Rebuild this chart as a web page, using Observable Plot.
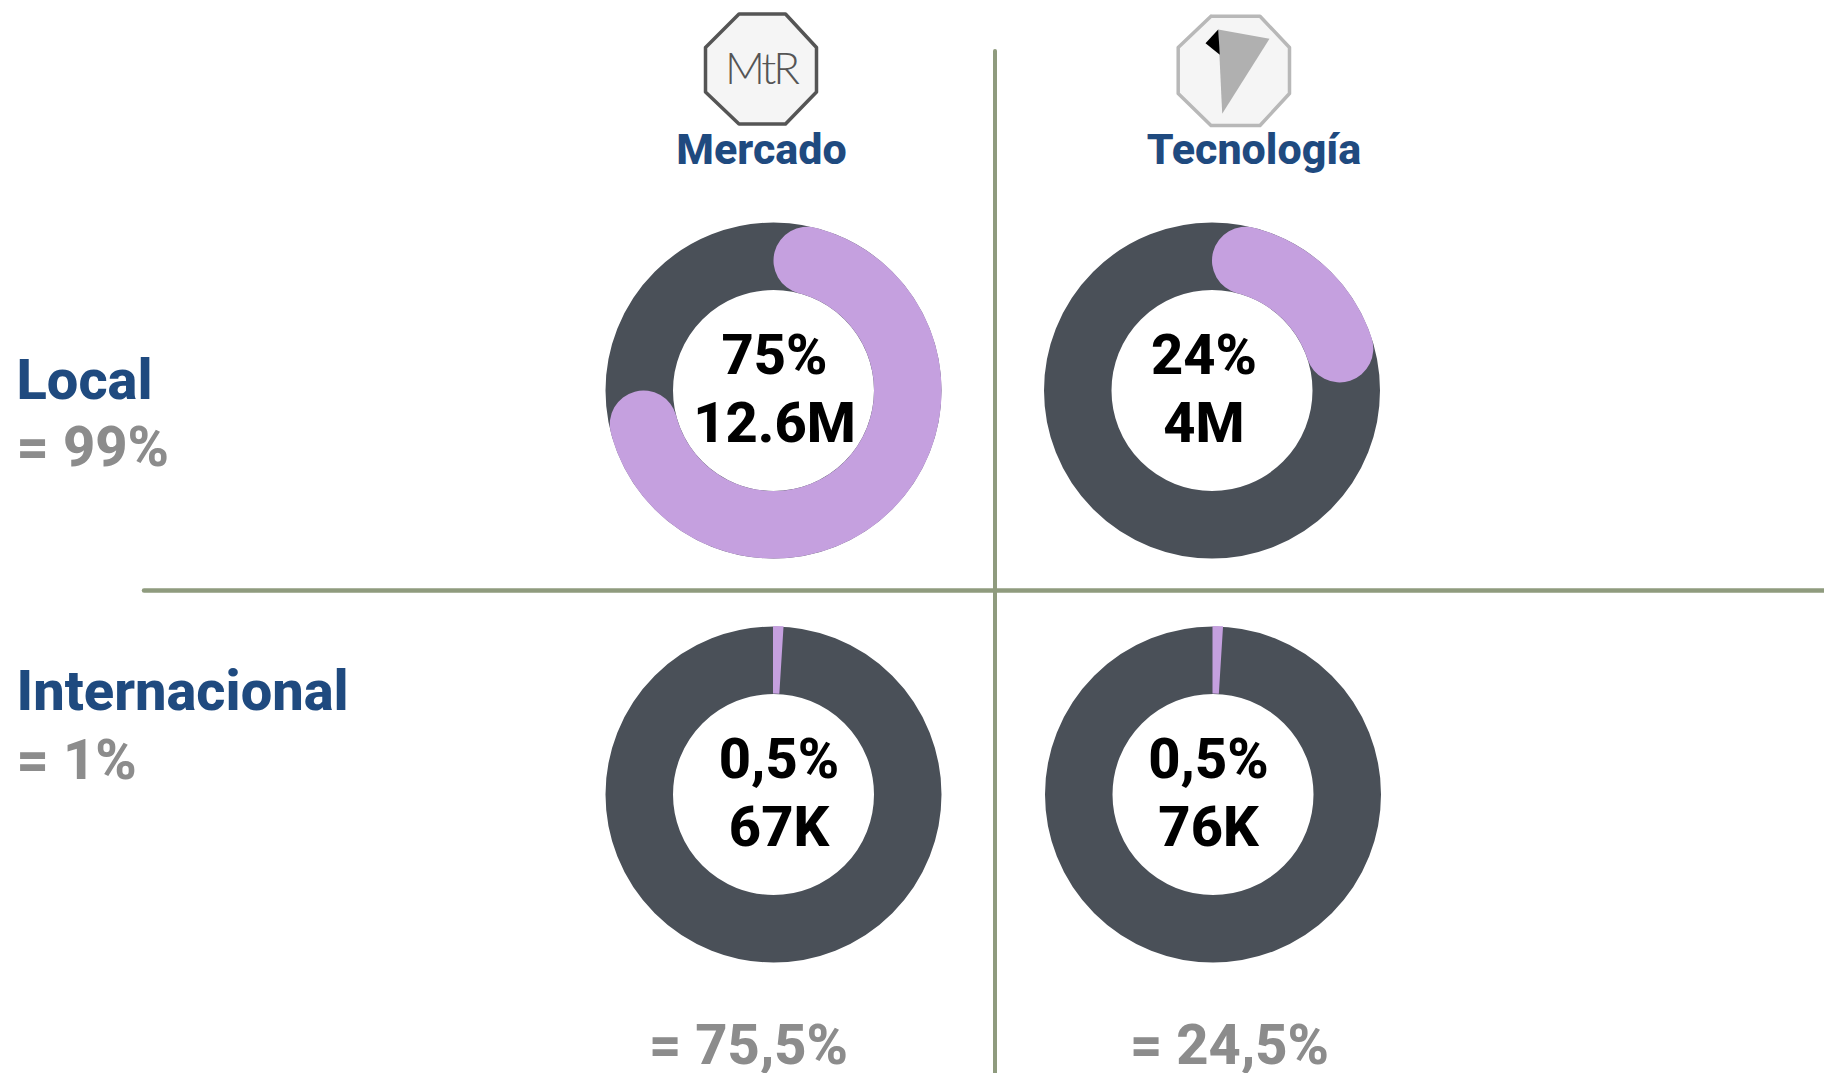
<!DOCTYPE html>
<html lang="es">
<head>
<meta charset="utf-8">
<script src="https://cdn.jsdelivr.net/npm/d3@7"></script>
<script src="https://cdn.jsdelivr.net/npm/@observablehq/plot@0.6"></script>
<style>
html,body{margin:0;padding:0;background:#fff;overflow:hidden}
svg{display:block}
</style>
</head>
<body>
<div id="chart"></div>
<script>
// --- values
const sectors = ["Mercado", "Tecnología"];
const regions = ["Local", "Internacional"];
const sectorTotals = ["= 75,5%", "= 24,5%"];
const regionTotals = ["= 99%", "= 1%"];
const donutSector = ["Mercado", "Tecnología", "Mercado", "Tecnología"];
const donutRegion = ["Local", "Local", "Internacional", "Internacional"];
const drawnShare = [75, 24, 1, 1];
const percentLabels = ["75%", "24%", "0,5%", "0,5%"];
const amountLabels = ["12.6M", "4M", "67K", "76K"];

// --- layout
const W = 1824, H = 1073;
const centreX = [773, 1211.5, 773, 1212.5];
const centreY = [390, 390, 794, 794];
const labelX = [774, 1203.5, 778.5, 1208];
const rOuter = 168, rInner = 100.5, rMid = (rOuter + rInner) / 2, band = rOuter - rInner;
const capDeg = Math.asin((band / 2) / rMid) * 180 / Math.PI;

const C = {dark: "#4a5058", purple: "#c5a0df", rule: "#8f9b7e", blue: "#1f4a7f", gray: "#8c8c8c"};
const font = "Roboto";

const donuts = donutSector.map((s, i) => ({
  sector: s, region: donutRegion[i], cx: centreX[i], cy: centreY[i],
  share: drawnShare[i], pct: percentLabels[i], amt: amountLabels[i], lx: labelX[i]
}));
const polar = (d, deg, r) => {
  const a = deg * Math.PI / 180;
  return [d.cx + r * Math.sin(a), d.cy - r * Math.cos(a)];
};
const arcPts = [], wedgePts = [];
donuts.forEach((d, k) => {
  const end = d.share * 3.6;
  if (end > 2 * capDeg) {
    for (const deg of d3.range(capDeg, end - capDeg, 1).concat(end - capDeg)) {
      const [x, y] = polar(d, deg, rMid);
      arcPts.push({k, x, y});
    }
  } else {
    for (const deg of [0, end]) {
      const [x1, y1] = polar(d, deg, rInner), [x2, y2] = polar(d, deg, rOuter);
      wedgePts.push({k, x1, y1, x2, y2});
    }
  }
});

// --- icons (decorative)
const octagonA = [[738.5,13.5],[785,13.5],[816,47],[816,91.5],[785,123.5],[738.5,123.5],[705,91.5],[705,47],[738.5,13.5]];
const octagonB = [[1210.5,15.7],[1259.5,15.7],[1289,47],[1289,93],[1259.5,125],[1210.5,125],[1177.7,93],[1177.7,47],[1210.5,15.7]];
const kiteGray = [[1217.7,29],[1269,38.3],[1221.7,113.3]];
const kiteBlack = [[1217.7,29],[1205,42.7],[1219.3,54.3]];

const txt = (data, o) => Plot.text(data, {fontFamily: font, fontWeight: 800, fontSize: 56, lineAnchor: "bottom", ...o});

const chart = Plot.plot({
  width: W, height: H, margin: 0,
  style: {background: "#fff"},
  x: {domain: [0, W], range: [0, W], axis: null},
  y: {domain: [0, H], range: [0, H], axis: null},
  marks: [
    Plot.ruleX([994.5], {y1: 51, y2: H, stroke: C.rule, strokeWidth: 4, strokeLinecap: "round"}),
    Plot.ruleY([590], {x1: 144, x2: W, stroke: C.rule, strokeWidth: 4.5, strokeLinecap: "round"}),

    Plot.dot(donuts, {x: "cx", y: "cy", r: rMid, fill: "none", stroke: C.dark, strokeWidth: band}),
    Plot.line(arcPts, {x: "x", y: "y", z: "k", stroke: C.purple, strokeWidth: band, strokeLinecap: "round", curve: "linear"}),
    Plot.area(wedgePts, {x1: "x1", y1: "y1", x2: "x2", y2: "y2", z: "k", fill: C.purple}),

    txt(donuts, {x: "lx", y: d => d.cy - 17, text: "pct", fill: "#000"}),
    txt(donuts, {x: "lx", y: d => d.cy + 51.5, text: "amt", fill: "#000"}),

    txt(regions, {x: 16, y: d => ({Local: 398, Internacional: 709})[d], text: d => d, fill: C.blue, textAnchor: "start"}),
    txt(regionTotals, {x: 16, y: (d, i) => [465.5, 778][i], text: d => d, fill: C.gray, textAnchor: "start"}),
    txt(sectors, {x: [761, 1253.5], y: 163, text: d => d, fill: C.blue, fontSize: 43}),
    txt(sectorTotals, {x: [748, 1229], y: 1063, text: d => d, fill: C.gray}),

    Plot.line(octagonA, {stroke: "#555", fill: "#f5f5f5", strokeWidth: 3.5}),
    Plot.line(octagonB, {stroke: "#b8b8b8", fill: "#f5f5f5", strokeWidth: 3.5}),
    Plot.line(kiteGray, {fill: "#b0b0b0", stroke: "none"}),
    Plot.line(kiteBlack, {fill: "#000", stroke: "none"}),
    Plot.text(["MtR"], {x: 760.5, y: 83, text: d => d, fontFamily: "Lato", fontWeight: 300, fontSize: 44, letterSpacing: "-3px", fill: "#555", lineAnchor: "bottom"})
  ]
});
chart.querySelectorAll("text").forEach(t => { if (t.textContent === "MtR") t.style.letterSpacing = "-3px"; });
document.getElementById("chart").append(chart);
</script>
</body>
</html>
